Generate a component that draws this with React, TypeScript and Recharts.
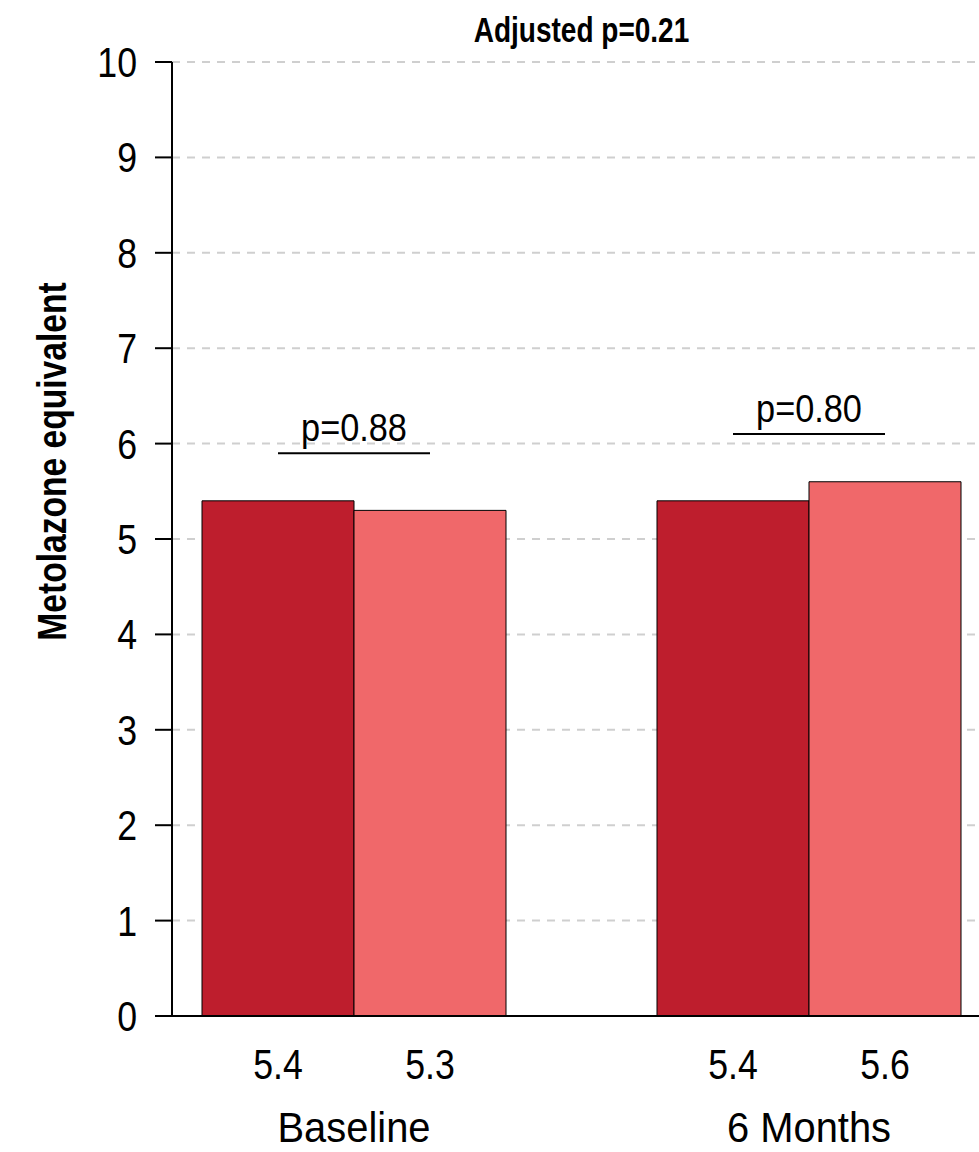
import React from 'react';
import { BarChart, Bar, XAxis, YAxis, CartesianGrid, LabelList } from 'recharts';

const FONT = '"Liberation Sans", Arial, Helvetica, sans-serif';

const categories = ['Baseline', '6 Months'];
const seriesDark = [5.4, 5.4];
const seriesLight = [5.3, 5.6];
const pLabels = ['p=0.88', 'p=0.80'];
const pLevels = [5.9, 6.1];
const yTicks = [0, 1, 2, 3, 4, 5, 6, 7, 8, 9, 10];
const titleText = 'Adjusted p=0.21';
const yTitle = 'Metolazone equivalent';

const data = categories.map((c, i) => ({ category: c, dark: seriesDark[i], light: seriesLight[i] }));

type STProps = {
  x: number;
  y: number;
  sx: number;
  fontSize: number;
  anchor?: 'start' | 'middle' | 'end';
  bold?: boolean;
  rotate?: number;
  children: React.ReactNode;
};

const ScaledText = ({ x, y, sx, fontSize, anchor = 'middle', bold = false, rotate = 0, children }: STProps) => (
  <g transform={`translate(${x},${y}) rotate(${rotate}) scale(${sx},1)`}>
    <text x={0} y={0} textAnchor={anchor} fontSize={fontSize} fontFamily={FONT} fontWeight={bold ? 'bold' : 'normal'} fill="#000">
      {children}
    </text>
  </g>
);

const box = (props: any) => {
  const vb = props.viewBox && props.viewBox.width !== undefined ? props.viewBox : props;
  return { x: Number(vb.x), y: Number(vb.y), width: Number(vb.width), height: Number(vb.height) };
};

const ValueLabel = (props: any) => {
  const { x, y, width, height } = box(props);
  const bottom = y + height;
  return (
    <ScaledText x={x + width / 2} y={bottom + 63} sx={0.85} fontSize={42}>
      {String(props.value)}
    </ScaledText>
  );
};

const PAnnotation = (props: any) => {
  const { x, y, width, height } = box(props);
  const i = props.index ?? 0;
  const value = Number(props.value);
  const bottom = y + height;
  const pxPerUnit = height / value;
  const ly = bottom - pLevels[i] * pxPerUnit;
  const x1 = x + width / 2;
  const x2 = x + width * 1.5;
  return (
    <g>
      <line x1={x1} x2={x2} y1={ly} y2={ly} stroke="#000" strokeWidth={2} />
      <ScaledText x={(x1 + x2) / 2} y={ly - 12} sx={0.88} fontSize={39}>
        {pLabels[i]}
      </ScaledText>
    </g>
  );
};

const CatTick = (props: any) => {
  const { x, y, payload } = props;
  return (
    <ScaledText x={x} y={y + 126} sx={0.95} fontSize={42}>
      {payload.value}
    </ScaledText>
  );
};

const YTick = (props: any) => {
  const { x, y, payload } = props;
  return (
    <ScaledText x={x} y={y + 15} sx={0.85} fontSize={42} anchor="end">
      {String(payload.value)}
    </ScaledText>
  );
};

export default function App() {
  return (
    <div style={{ position: 'absolute', left: 0, top: 0, width: 979, height: 1152, background: '#fff' }}>
      <BarChart
        width={979}
        height={1152}
        data={data}
        margin={{ top: 62, right: 0, bottom: 0, left: 0 }}
        barCategoryGap={75.5}
        barGap={0}
      >
        <CartesianGrid horizontal vertical={false} stroke="#cfcfcf" strokeDasharray="8 7" strokeWidth={2} />
        <XAxis
          dataKey="category"
          padding={{ left: -45.5, right: -57.5 }}
          axisLine={{ stroke: '#000', strokeWidth: 2 }}
          tickLine={false}
          tickSize={0}
          tickMargin={0}
          tick={<CatTick />}
          interval={0}
          height={136}
        />
        <YAxis
          width={172}
          domain={[0, 10]}
          ticks={yTicks}
          interval={0}
          axisLine={{ stroke: '#000', strokeWidth: 2 }}
          tickLine={{ stroke: '#000', strokeWidth: 2 }}
          tickSize={17}
          tickMargin={18}
          tick={<YTick />}
        />
        <Bar dataKey="dark" fill="#BE1E2D" stroke="#000" strokeWidth={1} isAnimationActive={false}>
          <LabelList dataKey="dark" content={<ValueLabel />} />
          <LabelList dataKey="dark" content={<PAnnotation />} />
        </Bar>
        <Bar dataKey="light" fill="#F0686A" stroke="#000" strokeWidth={1} isAnimationActive={false}>
          <LabelList dataKey="light" content={<ValueLabel />} />
        </Bar>
      </BarChart>
      <svg
        width={979}
        height={1152}
        style={{ position: 'absolute', left: 0, top: 0, pointerEvents: 'none' }}
      >
        <ScaledText x={581.5} y={42} sx={0.8} fontSize={35} bold>
          {titleText}
        </ScaledText>
        <ScaledText x={66} y={461.5} sx={0.84} fontSize={40} bold rotate={-90}>
          {yTitle}
        </ScaledText>
      </svg>
    </div>
  );
}
